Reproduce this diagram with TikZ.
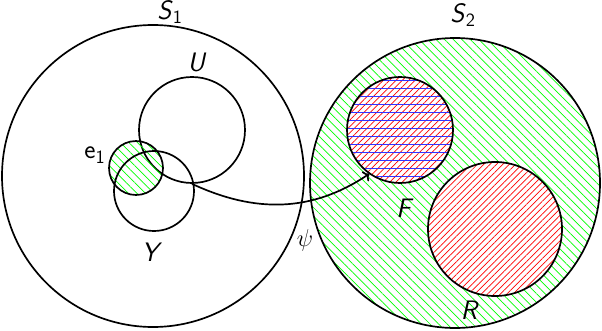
\documentclass[tikz,border=0pt]{standalone}
\usepackage{amsmath}
\usetikzlibrary{arrows.meta,patterns.meta,calc}
\newcommand{\sv}[1]{\textsf{\textit{#1}}}

\begin{document}
\begin{tikzpicture}[
    set/.style={circle, draw=black, line width=1.2pt, inner sep=0pt},
    greenhatch/.style={pattern={Lines[angle=-45,distance=4.3pt,line width=0.5pt]}, pattern color=green},
    redhatch/.style={pattern={Lines[angle=45,distance=3.2pt,line width=0.5pt]}, pattern color=red},
    lab/.style={font=\fontsize{19}{22}\selectfont\sffamily}
  ]
    \useasboundingbox (0,0) rectangle (15.05,8.25);
    % left set
    \node[set, minimum size=7.55cm] (S1) at (3.825,3.85) {};
    \node[set, minimum size=2.65cm] (U) at (4.8,5.0) {};
    \node[set, greenhatch, minimum size=1.35cm] (e1) at (3.4,4.05) {};
    \node[set, minimum size=2.0cm] (Y) at (3.85,3.475) {};
    % right set
    \node[set, greenhatch, minimum size=7.25cm] (S2) at (11.375,3.675) {};
    \node[set, draw=none, redhatch, preaction={fill=white}, minimum size=2.65cm] (F) at (10.0,5.0) {};
    \begin{scope}
      \clip (F.center) circle (1.325cm);
      \foreach \i in {-6,...,6}
        \draw[blue!80, line width=0.7pt] ($(F.center)+(-1.4,\i*0.2+0.05)$) -- ++(2.8,0);
    \end{scope}
    \draw[line width=1.2pt] (F.center) circle (1.325cm);
    \node[set, redhatch, preaction={fill=white}, minimum size=3.35cm] (R) at (12.375,2.525) {};
    % labels
    \node[lab] at (4.25,7.95) {\sv{S}\textsubscript{1}};
    \node[lab] at (11.575,7.875) {\sv{S}\textsubscript{2}};
    \node[lab] at (4.925,6.7) {\sv{U}};
    \node[lab] at (2.375,4.375) {e\textsubscript{1}};
    \node[lab] at (3.8,1.95) {\sv{Y}};
    \node[lab] at (10.125,3.05) {\sv{F}};
    \node[lab] at (11.75,0.5) {\sv{R}};
    \node[font=\LARGE] at (7.625,2.25) {$\psi$};
    \draw[line width=1.2pt, -{To[length=4pt]}] (U.south) to[out=-25, in=214] (F.235);
  \end{tikzpicture}
\end{document}
